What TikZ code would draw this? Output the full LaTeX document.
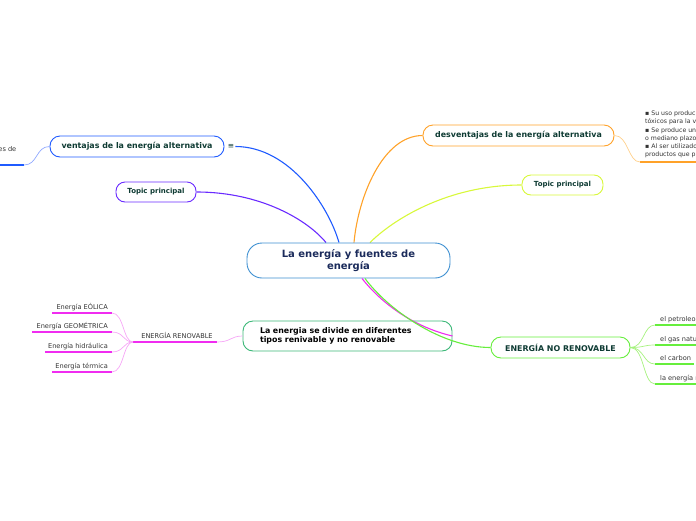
\documentclass[tikz,border=0pt]{standalone}
\usepackage{fontspec}
\setmainfont{DejaVu Sans}
\usetikzlibrary{positioning,calc,backgrounds}
\definecolor{rootline}{HTML}{3D8FD1}
\definecolor{roottext}{HTML}{1B2B5B}
\definecolor{tealtext}{HTML}{0E3B33}
\definecolor{leaftext}{HTML}{333333}
\definecolor{ventblue}{HTML}{1F5BFF}
\definecolor{purp}{HTML}{6A2BFF}
\definecolor{orng}{HTML}{FFA229}
\definecolor{lime}{HTML}{D8F83A}
\definecolor{boxgreen}{HTML}{3CB878}
\definecolor{brightgreen}{HTML}{66EE3C}
\definecolor{palegreen}{HTML}{A6F27E}
\definecolor{magen}{HTML}{F02CF0}
\definecolor{palepink}{HTML}{F6A6F6}
\definecolor{paleorng}{HTML}{FFD08A}
\definecolor{paleblue}{HTML}{8FA8FF}

\begin{document}
\begin{tikzpicture}[
  x=1pt, y=-1pt,
  topic/.style={draw, line width=0.9pt, rounded corners=10pt, fill=white,
                inner sep=0, align=center, text=tealtext,
                font=\fontsize{7.9}{9.5}\selectfont\bfseries},
  % the two small "Topic principal" pills
  minor/.style={topic, rounded corners=9pt, font=\fontsize{7}{8}\selectfont\bfseries},
  leaf/.style={font=\fontsize{6.6}{7.5}\selectfont, text=leaftext, inner sep=0},
  link/.style={line width=1.1pt},
  twig/.style={line width=0.7pt},
  rulebar/.style={line width=1.8pt}
]
\useasboundingbox (0,0) rectangle (696,520);
\clip (0,0) rectangle (696,520);

% ══ centre ═════════════════════════════════════════════════════════════════
\node[topic, draw=rootline, rounded corners=15pt, text=roottext,
      minimum width=203pt, minimum height=35pt,
      font=\fontsize{10}{12.5}\selectfont\bfseries] (root) at (348.5,260.5)
  {La energía y fuentes de\\energía};

% ══ main branches ══════════════════════════════════════════════════════════
\node[topic, draw=ventblue, minimum width=174pt, minimum height=21pt]
  (vent) at (137,146.5) {ventajas de la energía alternativa};
\node[font=\fontsize{7.5}{8}\selectfont, text=tealtext, inner sep=1pt]
  (ventnote) at (231,146.5) {≡};
\node[minor, draw=purp, minimum width=80pt, minimum height=20pt]
  (topl) at (156,192) {Topic principal};
\node[topic, draw=orng, minimum width=191pt, minimum height=21pt]
  (desv) at (518.5,135.5) {desventajas de la energía alternativa};
\node[minor, draw=lime, minimum width=81pt, minimum height=20pt]
  (topr) at (562.5,185) {Topic principal};
\node[topic, draw=boxgreen, text=black, align=left, text width=175pt,
      inner xsep=17pt, minimum height=30pt] (divide) at (347.5,336)
  {La energia se divide en diferentes\\tipos renivable y no renovable};
\node[topic, draw=brightgreen, minimum width=139pt, minimum height=21pt]
  (norenov) at (560.5,347.5) {ENERGÍA NO RENOVABLE};

% ══ connectors from the centre ═════════════════════════════════════════════
% the upper four end under the centre pill
\begin{scope}[on background layer]
\draw[link, purp] (topl.east) .. controls +(65,0) and +(-18,-22) ..
  ([xshift=-22.5pt]root.north);
\draw[link, ventblue] (ventnote.east) .. controls +(55,0) and +(-10,-35) ..
  ([xshift=-9.5pt]root.north);
\draw[link, orng] (desv.west) .. controls +(-40,0) and +(4,-45) ..
  ([xshift=5.5pt]root.north);
\draw[link, lime] (topr.west) .. controls +(-75,0) and +(22,-22) ..
  ([xshift=21.5pt]root.north);
\end{scope}
% the lower two run across the corner of the green pill
\draw[link, magen] ([xshift=13.5pt]root.south) .. controls +(22,28) and +(-35,-8) ..
  (divide.east);
\draw[link, brightgreen] ([xshift=16.5pt]root.south) .. controls +(22,30) and +(-50,0) ..
  (norenov.west);

% ══ ventajas: the clipped leaf at the left edge ═══════════════════════════
\node[leaf, anchor=base east] (ventleaf) at (16.5,151) {es de};
\coordinate (ventend) at (24,165);
\draw[rulebar, ventblue] (0,165) -- (ventend);
\draw[twig, paleblue] (ventend) .. controls +(14,0) and +(-14,0) .. (vent.west);

% ══ desventajas: the note block at the right edge ═════════════════════════
\node[leaf, anchor=north west, align=left, font=\fontsize{6.2}{8.3}\selectfont]
  (desvnote) at (645,110.5)
  {▪ Su uso produc\\tóxicos para la v\\▪ Se produce un\\o mediano plazo\\%
   ▪ Al ser utilizado\\productos que p};
\coordinate (desvend) at (640,162);
\draw[rulebar, orng] (desvend) -- (700,162);
\draw[twig, paleorng] (desv.east) .. controls +(14,0) and +(-12,0) .. (desvend);

% ══ renovable ══════════════════════════════════════════════════════════════
\node[leaf] (renov) at (177,335) {ENERGÍA RENOVABLE};
\coordinate (renovL) at (133,342);
\coordinate (renovR) at (217,342);
\draw[rulebar, magen] (renovL) -- (renovR);
\draw[twig, palepink] (renovR) .. controls +(14,0) and +(-12,0) .. (divide.west);
\foreach \ly/\lx/\lt [count=\i] in {313/52/Energía EÓLICA,
                                    332/32/Energía GEOMÉTRICA,
                                    352/45/Energía hidráulica,
                                    372/52/Energía térmica}{
  \node[leaf, anchor=base east] (ren\i) at (108,\ly-4) {\lt};
  \coordinate (renend\i) at (112,\ly);
  \draw[rulebar, magen] (\lx,\ly) -- (renend\i);
  \draw[twig, palepink] (renend\i) .. controls +(12,0) and +(-10,0) .. (renovL);
}

% ══ no renovable ═══════════════════════════════════════════════════════════
\foreach \ly/\lx/\lt [count=\i] in {325/700/el petroleo,
                                    345/700/el gas natu,
                                    364/694/el carbon,
                                    384/700/la energía n}{
  \node[leaf, anchor=base west] (nren\i) at (660,\ly-4) {\lt};
  \coordinate (nrenend\i) at (655,\ly);
  \draw[rulebar, brightgreen] (nrenend\i) -- (\lx,\ly);
  \draw[twig, palegreen] (norenov.east) .. controls +(14,0) and +(-12,0) .. (nrenend\i);
}

\end{tikzpicture}
\end{document}
